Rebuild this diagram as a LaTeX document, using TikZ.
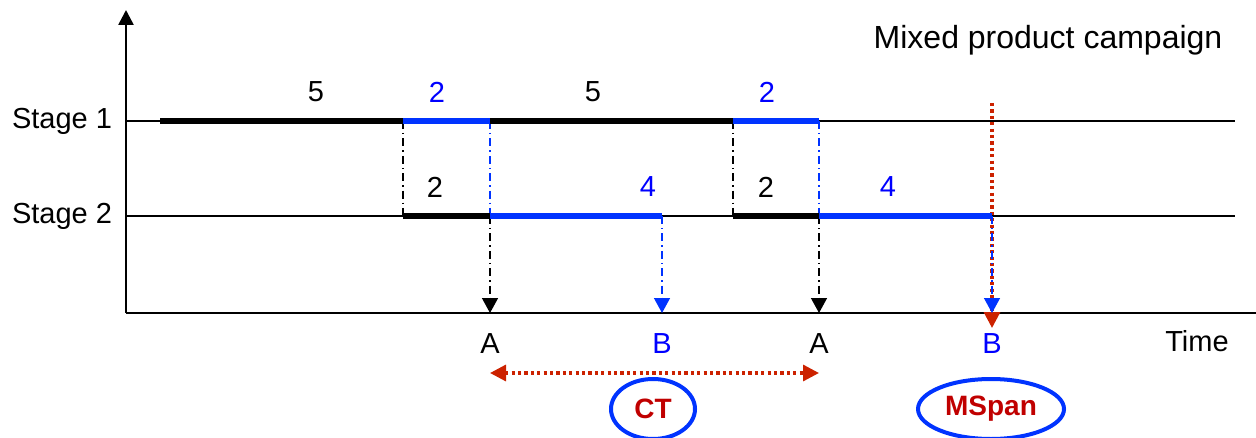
\documentclass[tikz,border=0pt]{standalone}
\usepackage{fontspec}
\setmainfont{Liberation Sans}
\usetikzlibrary{arrows.meta,shapes.geometric}
\definecolor{myblue}{HTML}{0033FF}
\definecolor{txtblue}{HTML}{0000FF}
\definecolor{myred}{HTML}{CC2200}
\definecolor{darkred}{HTML}{C00000}
\tikzset{
  axis/.style={line width=1.3pt},
  thinline/.style={line width=0.7pt},
  barblack/.style={line width=2.6pt,black},
  barblue/.style={line width=2.6pt,myblue},
  dashdot/.style={line width=0.7pt,dash pattern=on 4pt off 2pt on 0.7pt off 2pt},
  downarrow/.style={dashdot,-{Triangle[width=8pt,length=7.5pt]}},
  reddot/.style={line width=1.6pt,myred,dash pattern=on 1.6pt off 1.6pt},
  redtip/.tip={Triangle[width=8pt,length=8pt,fill=myred]},
  lbl/.style={font=\fontsize{14.5}{16}\selectfont,inner sep=0pt},
  ell/.style={ellipse,draw=myblue,line width=2pt,text=darkred,font=\fontsize{14}{16}\selectfont\bfseries,inner sep=0pt}
}
\begin{document}
\begin{tikzpicture}[x=0.5pt,y=-0.5pt]
\useasboundingbox (0,0) rectangle (1256,438);
% axes
\coordinate (O) at (126,313);
\coordinate (Ytop) at (126,10);
\coordinate (Xend) at (1256,313);
\draw[axis,-{Triangle[width=7.5pt,length=7.5pt]}] (O) -- (Ytop);
\draw[axis] (O) -- (Xend);
% stage lines
\coordinate (S1a) at (126,121); \coordinate (S1b) at (1235,121);
\coordinate (S2a) at (126,216); \coordinate (S2b) at (1235,216);
\draw[thinline] (S1a) -- (S1b);
\draw[thinline] (S2a) -- (S2b);
\node[lbl] (st1) at (62,121) {Stage 1};
\node[lbl] (st2) at (62,216) {Stage 2};
\node[lbl,font=\fontsize{16}{18}\selectfont] (title) at (1048,40) {Mixed product campaign};
\node[lbl] (time) at (1197,341) {Time};
% stage 1 coordinates
\coordinate (a0) at (160,121);
\coordinate (a1) at (403,121);
\coordinate (a2) at (490,121);
\coordinate (a3) at (733,121);
\coordinate (a4) at (819,121);
% stage 2 coordinates
\coordinate (b1) at (403,216);
\coordinate (b2) at (490,216);
\coordinate (b3) at (662,216);
\coordinate (b4) at (733,216);
\coordinate (b5) at (819,216);
\coordinate (b6) at (992,216);
% axis coordinates
\coordinate (c2) at (490,313);
\coordinate (c3) at (662,313);
\coordinate (c5) at (819,313);
\coordinate (c6) at (992,313);
% dash-dot verticals
\draw[dashdot] (a1) -- (b1);
\draw[dashdot,myblue] (a2) -- (b2);
\draw[dashdot] (a3) -- (b4);
\draw[dashdot,myblue] (a4) -- (b5);
\draw[downarrow] (b2) -- (c2);
\draw[downarrow,myblue] (b3) -- (c3);
\draw[downarrow] (b5) -- (c5);
% red makespan line
\coordinate (r0) at (992,103);
\coordinate (r1) at (992,328);
\draw[reddot,-redtip] (r0) -- (r1);
\draw[downarrow,myblue] (b6) -- (c6);
% bars stage 1
\draw[barblack] (a0) -- (a1);
\draw[barblue] (a1) -- (a2);
\draw[barblack] (a2) -- (a3);
\draw[barblue] (a3) -- (a4);
% bars stage 2
\draw[barblack] (b1) -- (b2);
\draw[barblue] (b2) -- (b3);
\draw[barblack] (b4) -- (b5);
\draw[barblue] (b5) -- (b6);
% bar labels
\node[lbl] (n1) at (316,92) {5};
\node[lbl,text=txtblue] (n2) at (437,92) {2};
\node[lbl] (n3) at (593,92) {5};
\node[lbl,text=txtblue] (n4) at (767,92) {2};
\node[lbl] (m1) at (435,187) {2};
\node[lbl,text=txtblue] (m2) at (648,187) {4};
\node[lbl] (m3) at (766,187) {2};
\node[lbl,text=txtblue] (m4) at (888,187) {4};
% axis labels
\node[lbl] (A1) at (490,344) {A};
\node[lbl,text=txtblue] (B1) at (662,344) {B};
\node[lbl] (A2) at (819,344) {A};
\node[lbl,text=txtblue] (B2) at (992,344) {B};
% cycle time arrow
\coordinate (ct0) at (490,373);
\coordinate (ct1) at (819,373);
\draw[reddot,redtip-redtip] (ct0) -- (ct1);
% ellipses
\node[ell,minimum width=42pt,minimum height=30pt] (CT) at (653,409) {CT};
\node[ell,minimum width=73pt,minimum height=30pt] (MS) at (991,409) {MSpan};
\end{tikzpicture}
\end{document}
